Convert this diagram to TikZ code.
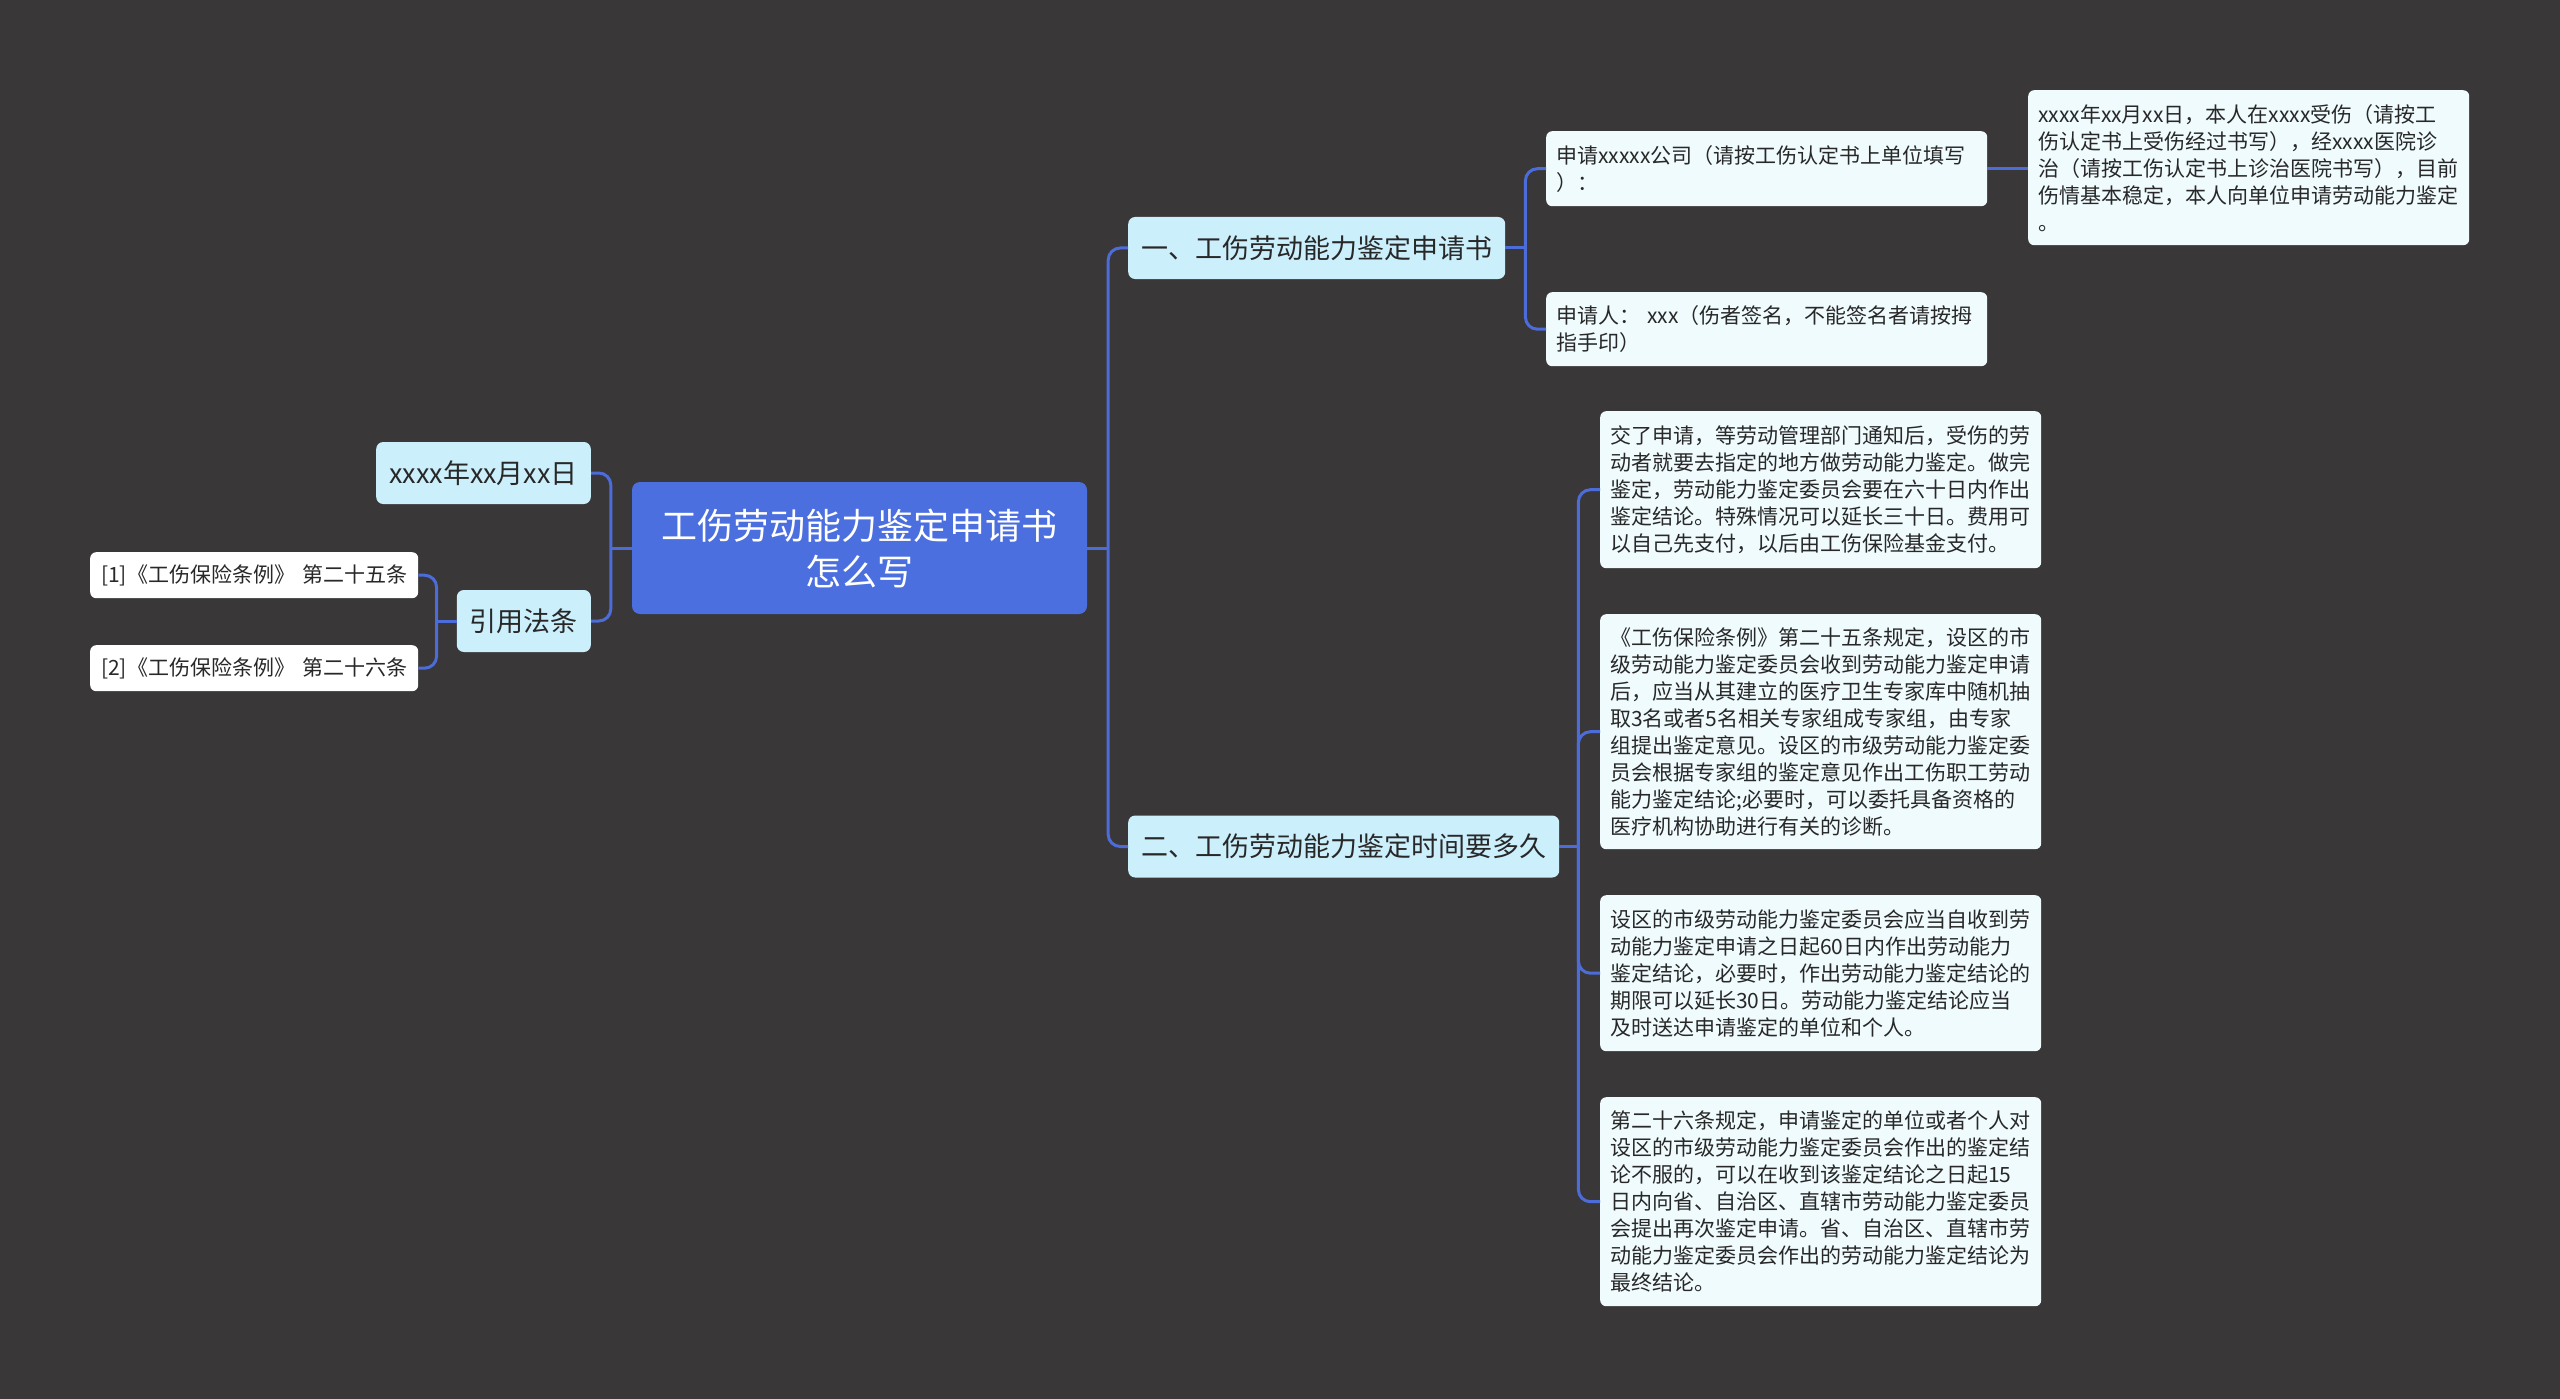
\documentclass[tikz,border=0pt]{standalone}
\usepackage{fontspec}
\setmainfont{Noto Sans CJK SC}
\usetikzlibrary{positioning, calc}

\definecolor{bgdark}{RGB}{57,55,56}
\definecolor{rootblue}{RGB}{76,111,224}
\definecolor{linkblue}{RGB}{76,108,218}
\definecolor{topicfill}{RGB}{204,239,252}
\definecolor{leaffill}{RGB}{240,251,254}
\definecolor{inktext}{RGB}{40,40,40}

\begin{document}
\begin{tikzpicture}[
    x=1pt, y=-1pt,
    rootbox/.style={fill=rootblue, text=white, rounded corners=8pt, align=center, minimum width=455pt, minimum height=132pt, inner sep=0pt, font=\fontsize{36}{46}\selectfont},
    topic/.style={fill=topicfill, text=inktext, rounded corners=7pt, inner xsep=13pt, inner ysep=0pt, minimum height=62pt, font=\fontsize{27}{34}\selectfont},
    leaf/.style={fill=leaffill, text=inktext, rounded corners=6pt, align=left, text width=421pt, inner xsep=10pt, inner ysep=0pt, minimum height=#1, anchor=north west, font=\fontsize{21}{27}\selectfont},
    leaf/.default=46pt,
    citebox/.style={fill=white, text=inktext, rounded corners=6pt, align=left, text width=306pt, inner xsep=11pt, inner ysep=0pt, minimum height=46pt, anchor=north west, font=\fontsize{21}{27}\selectfont},
    link/.style={draw=linkblue, line width=3pt, rounded corners=12pt},
    stub/.style={draw=linkblue, line width=3pt}
]

% --- Canvas ---
\fill[bgdark] (0,0) rectangle (2560,1399);
\useasboundingbox (0,0) rectangle (2560,1399);

% --- Root ---
\node[rootbox] (root) at (859.5,548) {工伤劳动能力鉴定申请书\\怎么写};

% --- Topics ---
\node[topic, anchor=west] (apply) at (1128,248) {一、工伤劳动能力鉴定申请书};
\node[topic, anchor=west] (howlong) at (1128,846.5) {二、工伤劳动能力鉴定时间要多久};
\node[topic, anchor=east] (date) at (591,473) {xxxx年xx月xx日};
\node[topic, anchor=east] (laws) at (591,621) {引用法条};

% --- Leaves of topic one ---
\node[leaf=75pt] (company) at (1546,131) {申请xxxxx公司（请按工伤认定书上单位填写\\）：};
\node[leaf=155pt] (story) at (2028,90) {xxxx年xx月xx日，本人在xxxx受伤（请按工\\伤认定书上受伤经过书写），经xxxx医院诊\\治（请按工伤认定书上诊治医院书写），目前\\伤情基本稳定，本人向单位申请劳动能力鉴定\\。};
\node[leaf=74pt] (signer) at (1546,292) {申请人： xxx（伤者签名，不能签名者请按拇\\指手印）};

% --- Leaves of topic two ---
\node[leaf=157pt] (wait) at (1600,411) {交了申请，等劳动管理部门通知后，受伤的劳\\动者就要去指定的地方做劳动能力鉴定。做完\\鉴定，劳动能力鉴定委员会要在六十日内作出\\鉴定结论。特殊情况可以延长三十日。费用可\\以自己先支付，以后由工伤保险基金支付。};
\node[leaf=235pt] (art25) at (1600,614) {《工伤保险条例》第二十五条规定，设区的市\\级劳动能力鉴定委员会收到劳动能力鉴定申请\\后，应当从其建立的医疗卫生专家库中随机抽\\取3名或者5名相关专家组成专家组，由专家\\组提出鉴定意见。设区的市级劳动能力鉴定委\\员会根据专家组的鉴定意见作出工伤职工劳动\\能力鉴定结论;必要时，可以委托具备资格的\\医疗机构协助进行有关的诊断。};
\node[leaf=156pt] (sixty) at (1600,895) {设区的市级劳动能力鉴定委员会应当自收到劳\\动能力鉴定申请之日起60日内作出劳动能力\\鉴定结论，必要时，作出劳动能力鉴定结论的\\期限可以延长30日。劳动能力鉴定结论应当\\及时送达申请鉴定的单位和个人。};
\node[leaf=209pt] (art26) at (1600,1097) {第二十六条规定，申请鉴定的单位或者个人对\\设区的市级劳动能力鉴定委员会作出的鉴定结\\论不服的，可以在收到该鉴定结论之日起15\\日内向省、自治区、直辖市劳动能力鉴定委员\\会提出再次鉴定申请。省、自治区、直辖市劳\\动能力鉴定委员会作出的劳动能力鉴定结论为\\最终结论。};

% --- Cited articles ---
\node[citebox] (cite1) at (90,552) {[1]《工伤保险条例》 第二十五条};
\node[citebox] (cite2) at (90,645) {[2]《工伤保险条例》 第二十六条};

% --- Joints ---
\coordinate (rjoin) at ($(root.east)+(21,0)$);
\coordinate (ljoin) at ($(root.west)+(-21,0)$);
\coordinate (applyjoin) at ($(apply.east)+(20,0)$);
\coordinate (howjoin) at ($(howlong.east)+(19,0)$);
\coordinate (lawsjoin) at ($(laws.west)+(-20,0)$);

% --- Links ---
\draw[stub] (root.east) -- (rjoin);
\draw[link] (rjoin) |- (apply.west);
\draw[link] (rjoin) |- (howlong.west);

\draw[stub] (root.west) -- (ljoin);
\draw[link] (ljoin) |- (date.east);
\draw[link] (ljoin) |- (laws.east);

\draw[stub] (apply.east) -- (applyjoin);
\draw[link] (applyjoin) |- (company.west);
\draw[link] (applyjoin) |- (signer.west);
\draw[stub] (company.east) -- (company.east -| story.west);

\draw[stub] (howlong.east) -- (howjoin);
\foreach \leafname in {wait, art25, sixty, art26}
    \draw[link] (howjoin) |- (\leafname.west);

\draw[stub] (laws.west) -- (lawsjoin);
\draw[link] (lawsjoin) |- (cite1.east);
\draw[link] (lawsjoin) |- (cite2.east);

\end{tikzpicture}
\end{document}
